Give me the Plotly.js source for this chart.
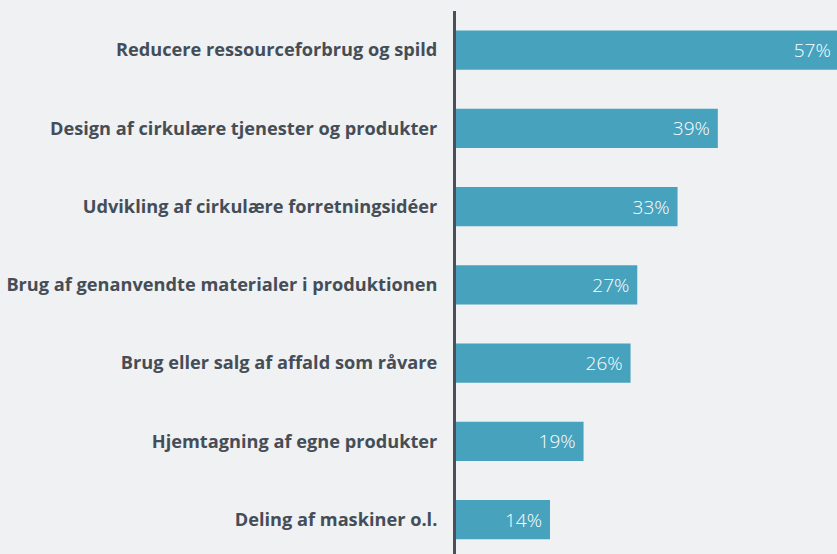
<!DOCTYPE html>
<html><head><meta charset="utf-8">
<script src="https://cdn.plot.ly/plotly-3.0.1.min.js"></script>
<style>html,body{margin:0;padding:0;overflow:hidden;background:#eff1f3;}</style>
</head><body>
<div id="chart" style="width:837px;height:554px;"></div>
<script>
const categories = [
  "Reducere ressourceforbrug og spild",
  "Design af cirkulære tjenester og produkter",
  "Udvikling af cirkulære forretningsidéer",
  "Brug af genanvendte materialer i produktionen",
  "Brug eller salg af affald som råvare",
  "Hjemtagning af egne produkter",
  "Deling af maskiner o.l."
];
const values = [57, 39, 33, 27, 26, 19, 14];
const valueLabels = values.map(v => v + "%\u00a0");

const trace = {
  type: "bar",
  orientation: "h",
  x: values,
  y: categories,
  width: 0.5,
  text: valueLabels,
  textposition: "inside",
  insidetextanchor: "end",
  textangle: 0,
  constraintext: "none",
  textfont: {family: "Open Sans", size: 19, color: "#ffffff", weight: 300},
  marker: {color: "#47a2be"},
  hoverinfo: "none"
};

const layout = {
  width: 837, height: 554,
  margin: {l: 456, r: 0, t: 11, b: 0, pad: 0},
  paper_bgcolor: "#eff1f3",
  plot_bgcolor: "#eff1f3",
  showlegend: false,
  xaxis: {range: [0, 56.75], showgrid: false, zeroline: false, showticklabels: false, showline: false, fixedrange: true},
  yaxis: {
    type: "category",
    range: [6.44, -0.5],
    showgrid: false, zeroline: false,
    showline: true, linecolor: "#4a5058", linewidth: 3,
    ticks: "", ticklabelstandoff: 12,
    tickfont: {family: "Open Sans", size: 18.2, color: "#454d57", weight: 700},
    fixedrange: true
  }
};
Plotly.newPlot("chart", [trace], layout, {displayModeBar: false, staticPlot: true});
</script>
</body></html>
